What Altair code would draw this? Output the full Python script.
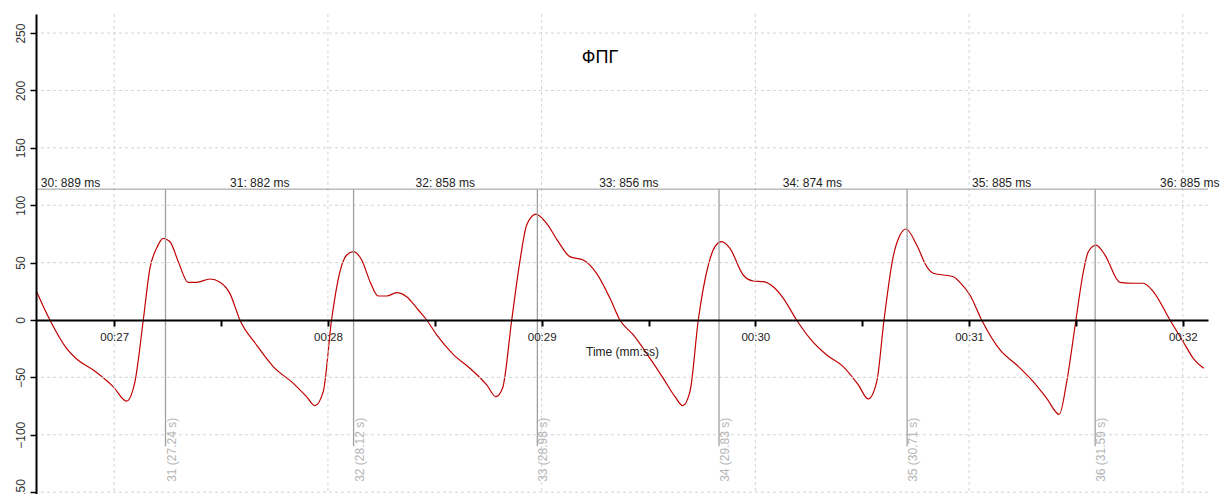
import altair as alt
import pandas as pd

# ---- signal (seconds, amplitude) ----
sig_t = [26.637, 26.699, 26.777, 26.824, 26.902, 26.995, 27.058, 27.097, 27.136, 27.167,
         27.198, 27.229, 27.261, 27.300, 27.346, 27.386, 27.448, 27.495, 27.541, 27.588,
         27.666, 27.744, 27.838, 27.900, 27.939, 27.978, 28.017, 28.056, 28.088, 28.118,
         28.158, 28.197, 28.235, 28.275, 28.321, 28.368, 28.423, 28.462, 28.509, 28.586,
         28.664, 28.743, 28.786, 28.817, 28.860, 28.898, 28.930, 28.973, 29.023, 29.078,
         29.132, 29.195, 29.257, 29.320, 29.366, 29.429, 29.507, 29.569, 29.624, 29.660,
         29.694, 29.733, 29.780, 29.811, 29.842, 29.881, 29.943, 29.990, 30.037, 30.084,
         30.131, 30.193, 30.255, 30.334, 30.411, 30.482, 30.528, 30.568, 30.602, 30.645,
         30.677, 30.705, 30.755, 30.802, 30.833, 30.926, 30.957, 31.004, 31.059, 31.145,
         31.223, 31.300, 31.363, 31.422, 31.457, 31.500, 31.532, 31.558, 31.594, 31.636,
         31.706, 31.768, 31.815, 31.862, 31.940, 32.002, 32.049, 32.098]
sig_v = [24.7, 0.0, -24.7, -34.0, -43.6, -58.0, -70.6, -53.7, 0.0, 45.0,
         62.4, 71.2, 68.2, 50.8, 32.8, 32.8, 35.7, 32.8, 23.2, 0.0,
         -21.8, -40.6, -55.2, -66.8, -74.6, -62.4, 0.0, 42.0, 56.6, 59.5,
         52.3, 33.4, 20.9, 20.9, 23.8, 20.3, 8.7, 0.0, -13.0, -29.9,
         -42.0, -56.6, -66.8, -59.5, 0.0, 50.8, 82.8, 92.3, 84.2, 68.2,
         55.2, 52.3, 40.7, 18.9, 0.0, -13.0, -33.4, -50.8, -66.8, -74.6,
         -62.4, 0.0, 47.9, 63.9, 68.2, 62.4, 39.2, 34.0, 33.4, 29.0,
         18.9, 0.0, -16.0, -30.5, -40.6, -56.6, -68.8, -53.7, 0.0, 55.2,
         74.0, 79.3, 65.3, 46.5, 40.7, 37.7, 32.8, 21.8, 0.0, -26.1,
         -39.2, -53.7, -68.2, -82.2, -53.7, 0.0, 39.2, 59.5, 65.3, 56.6,
         32.8, 32.0, 32.0, 24.7, 0.0, -18.9, -33.4, -42.0]

# ---- beat markers ----
beat_ids = [30, 31, 32, 33, 34, 35, 36]
beat_times = [26.351, 27.24, 28.12, 28.98, 29.83, 30.71, 31.59]
rr_ms = [889, 882, 858, 856, 874, 885, 885]

# ---- axes ----
x_ticks = [27, 27.5, 28, 28.5, 29, 29.5, 30, 30.5, 31, 31.5, 32]
x_grid = [27, 28, 29, 30, 31, 32]
y_ticks = list(range(-150, 251, 25))
y_grid = [-150, -100, -50, 50, 100, 150, 200, 250]

X_DOMAIN = [26.634, 32.118]
Y_DOMAIN = [-151.6, 266.6]
BRACKET_Y = 114
MARKER_BOTTOM = -110
INTERVAL_LABEL_Y = 119.5
MARKER_LABEL_Y = -141

W, H = 1172, 480
y0_px = (Y_DOMAIN[1] - 0) / (Y_DOMAIN[1] - Y_DOMAIN[0]) * H

FONT = "Liberation Sans"

sig = pd.DataFrame({"t": sig_t, "v": sig_v})

interval_df = pd.DataFrame({
    "t": [t + r / 2000.0 for t, r in zip(beat_times, rr_ms)],
    "v": [INTERVAL_LABEL_Y] * len(beat_ids),
    "label": [f"{i}: {r} ms" for i, r in zip(beat_ids, rr_ms)],
})
vis = [(i, t) for i, t in zip(beat_ids, beat_times) if t >= X_DOMAIN[0]]
marker_df = pd.DataFrame({
    "t": [t for _, t in vis],
    "v": [BRACKET_Y] * len(vis),
    "v2": [MARKER_BOTTOM] * len(vis),
})
marker_lab_df = pd.DataFrame({
    "t": [t for _, t in vis],
    "v": [MARKER_LABEL_Y] * len(vis),
    "label": [f"{i} ({t:.2f} s)" for i, t in vis],
})
bracket_df = pd.DataFrame({"t": [beat_times[0]], "t2": [beat_times[-1] + rr_ms[-1] / 1000.0],
                           "v": [BRACKET_Y]})
xg = pd.DataFrame({"t": x_grid})
yg = pd.DataFrame({"v": y_grid})

xs = alt.Scale(domain=X_DOMAIN, nice=False, zero=False)
ys = alt.Scale(domain=Y_DOMAIN, nice=False, zero=False)

x_axis = alt.Axis(
    values=x_ticks,
    labelExpr="datum.value % 1 == 0 ? '00:' + format(datum.value, '02d') : ''",
    offset=-(H - y0_px),
    domainColor="black", domainWidth=2,
    tickColor="black", tickWidth=2, tickSize=6,
    labelColor="#222", labelFont=FONT, labelFontSize=11.5, labelPadding=6,
    labelOverlap=False, labelFlush=False,
    grid=False, zindex=1,
    title="Time (mm:ss)", titleFont=FONT, titleFontSize=12, titleFontWeight="normal",
    titleColor="#222", titlePadding=3,
)
y_axis = alt.Axis(
    values=y_ticks,
    labelExpr="datum.value % 50 == 0 ? datum.label : ''",
    labelAngle=270, labelAlign="center", labelBaseline="bottom",
    domainColor="black", domainWidth=2,
    tickColor="black", tickWidth=1.5, tickSize=6,
    labelColor="#333", labelFont=FONT, labelFontSize=12, labelPadding=3,
    labelOverlap=False, labelFlush=False,
    grid=False, zindex=1, title="",
)

X = alt.X("t:Q", scale=xs)
Y = alt.Y("v:Q", scale=ys)

line = alt.Chart(sig).mark_line(color="#c00000", strokeWidth=1.2, interpolate="monotone",
                                clip=True).encode(
    x=alt.X("t:Q", scale=xs, axis=x_axis),
    y=alt.Y("v:Q", scale=ys, axis=y_axis),
)

grid_x = alt.Chart(xg).mark_rule(color="#d4d4d4", strokeDash=[3, 3], strokeWidth=1).encode(x=X)
grid_y = alt.Chart(yg).mark_rule(color="#d4d4d4", strokeDash=[3, 3], strokeWidth=1).encode(y=Y)

bracket_rule = alt.Chart(bracket_df).mark_rule(color="#999999", strokeWidth=1, clip=True).encode(
    x=X, x2="t2:Q", y=Y)

marker_rules = alt.Chart(marker_df).mark_rule(color="#a0a0a0", strokeWidth=1.3).encode(
    x=X, y=Y, y2="v2:Q")

interval_text = alt.Chart(interval_df).mark_text(font=FONT, fontSize=12, color="#222",
                                                 baseline="middle", align="center").encode(
    x=X, y=Y, text="label:N")

marker_text = alt.Chart(marker_lab_df).mark_text(font=FONT, fontSize=12, color="#b5b5b5",
                                                 angle=270, align="left", baseline="middle",
                                                 dy=6).encode(
    x=X, y=Y, text="label:N")

title = alt.Chart(pd.DataFrame({"txt": ["ФПГ"]})).mark_text(
    font=FONT, fontSize=18, color="black", align="center", baseline="middle").encode(
    x=alt.value(564), y=alt.value(44), text="txt:N")

chart = alt.layer(line, grid_x, grid_y, bracket_rule, marker_rules, interval_text,
                  marker_text, title).properties(
    width=W, height=H,
    autosize=alt.AutoSizeParams(type="none"),
    padding={"left": 36, "top": 14, "right": 12, "bottom": 0},
    background="white",
).configure_view(stroke=None).configure_axis(grid=False)

chart.save("out.html", embed_options={"renderer": "svg", "actions": False})
